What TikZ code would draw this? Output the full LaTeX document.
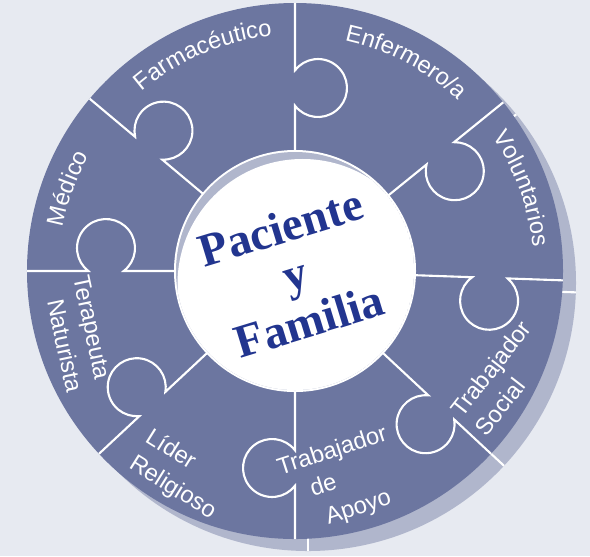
\documentclass[tikz,border=0pt]{standalone}
\usepackage{fontspec}
\setmainfont{Liberation Serif}
\setsansfont{Liberation Sans}
\usetikzlibrary{decorations.text}
\definecolor{fondo}{HTML}{E7EAF1}
\definecolor{anillo}{HTML}{6C76A0}
\definecolor{sombra}{HTML}{B0B6CC}
\definecolor{azul}{HTML}{22358F}
\tikzset{
  pieza/.style={draw=white, line width=1.2pt},
  etiqueta/.style={text=white, font=\sffamily\fontsize{13.5}{17.5}\selectfont, align=left},
  arco/.style={decorate, decoration={text along path, text align=center, text color=white,
    text={|\sffamily\fontsize{13.5}{16}\selectfont|#1}}}
}
\begin{document}
\begin{tikzpicture}[x=0.02cm, y=0.02cm]
    % 背景
    \fill[fondo] (-295,-285) rectangle (295,271);
    \coordinate (O) at (0,0);
    % 阴影
    \fill[sombra] ([shift={(13,-12)}]O) circle (268);
    \foreach \a in {180,140,90,39,-2,-43,-90,-137}
      \draw[pieza] ([shift={(13,-12)}]\a:248) -- ([shift={(13,-12)}]\a:268);
    % 圆环
    \fill[anillo] (O) circle (268);
    % 拼图分隔线
    \foreach \a/\k in {180/189, 140/191, 90/183, 39/187, -2/195, -43/200, -90/197, -137/195}
      \draw[pieza, rotate=\a] (120,0) -- ({\k-17.7},0)
        arc[start angle=127.6, end angle=412.4, radius=29] -- (268,0);
    % 中心圆
    \fill[white] (O) circle (121);
    \begin{scope}
      \clip (O) circle (119);
      \fill[sombra] (O) circle (119);
      \fill[white] (-60:15) circle (125);
    \end{scope}
    \node[font=\bfseries\fontsize{26.6}{27.8}\selectfont, text=azul, align=center, rotate=17]
      (centro) at (0,-3) {Paciente\\y\\Familia};
    % 标注
    \path[arco=Médico] (190:236) arc[start angle=190, end angle=130, radius=236];
    \path[arco=Farmacéutico] (143:236) arc[start angle=143, end angle=83, radius=236];
    \path[arco=Enfermero/a] (92:236) arc[start angle=92, end angle=32, radius=236];
    \path[arco=Voluntarios] (50:239) arc[start angle=50, end angle=-10, radius=239];
    \node[etiqueta, rotate=52] (social) at (208,-107) {Trabajador\\Social};
    \node[etiqueta, rotate=18] (apoyo) at (47,-210) {Trabajador\\\hspace*{14pt}de\\\hspace*{17.5pt}Apoyo};
    \node[etiqueta, rotate=-32] (lider) at (-114,-204) {Líder\\Religioso};
    \node[etiqueta, rotate=-78] (terapeuta) at (-217,-63) {Terapeuta\\\hspace*{10pt}Naturista};
\end{tikzpicture}
\end{document}
